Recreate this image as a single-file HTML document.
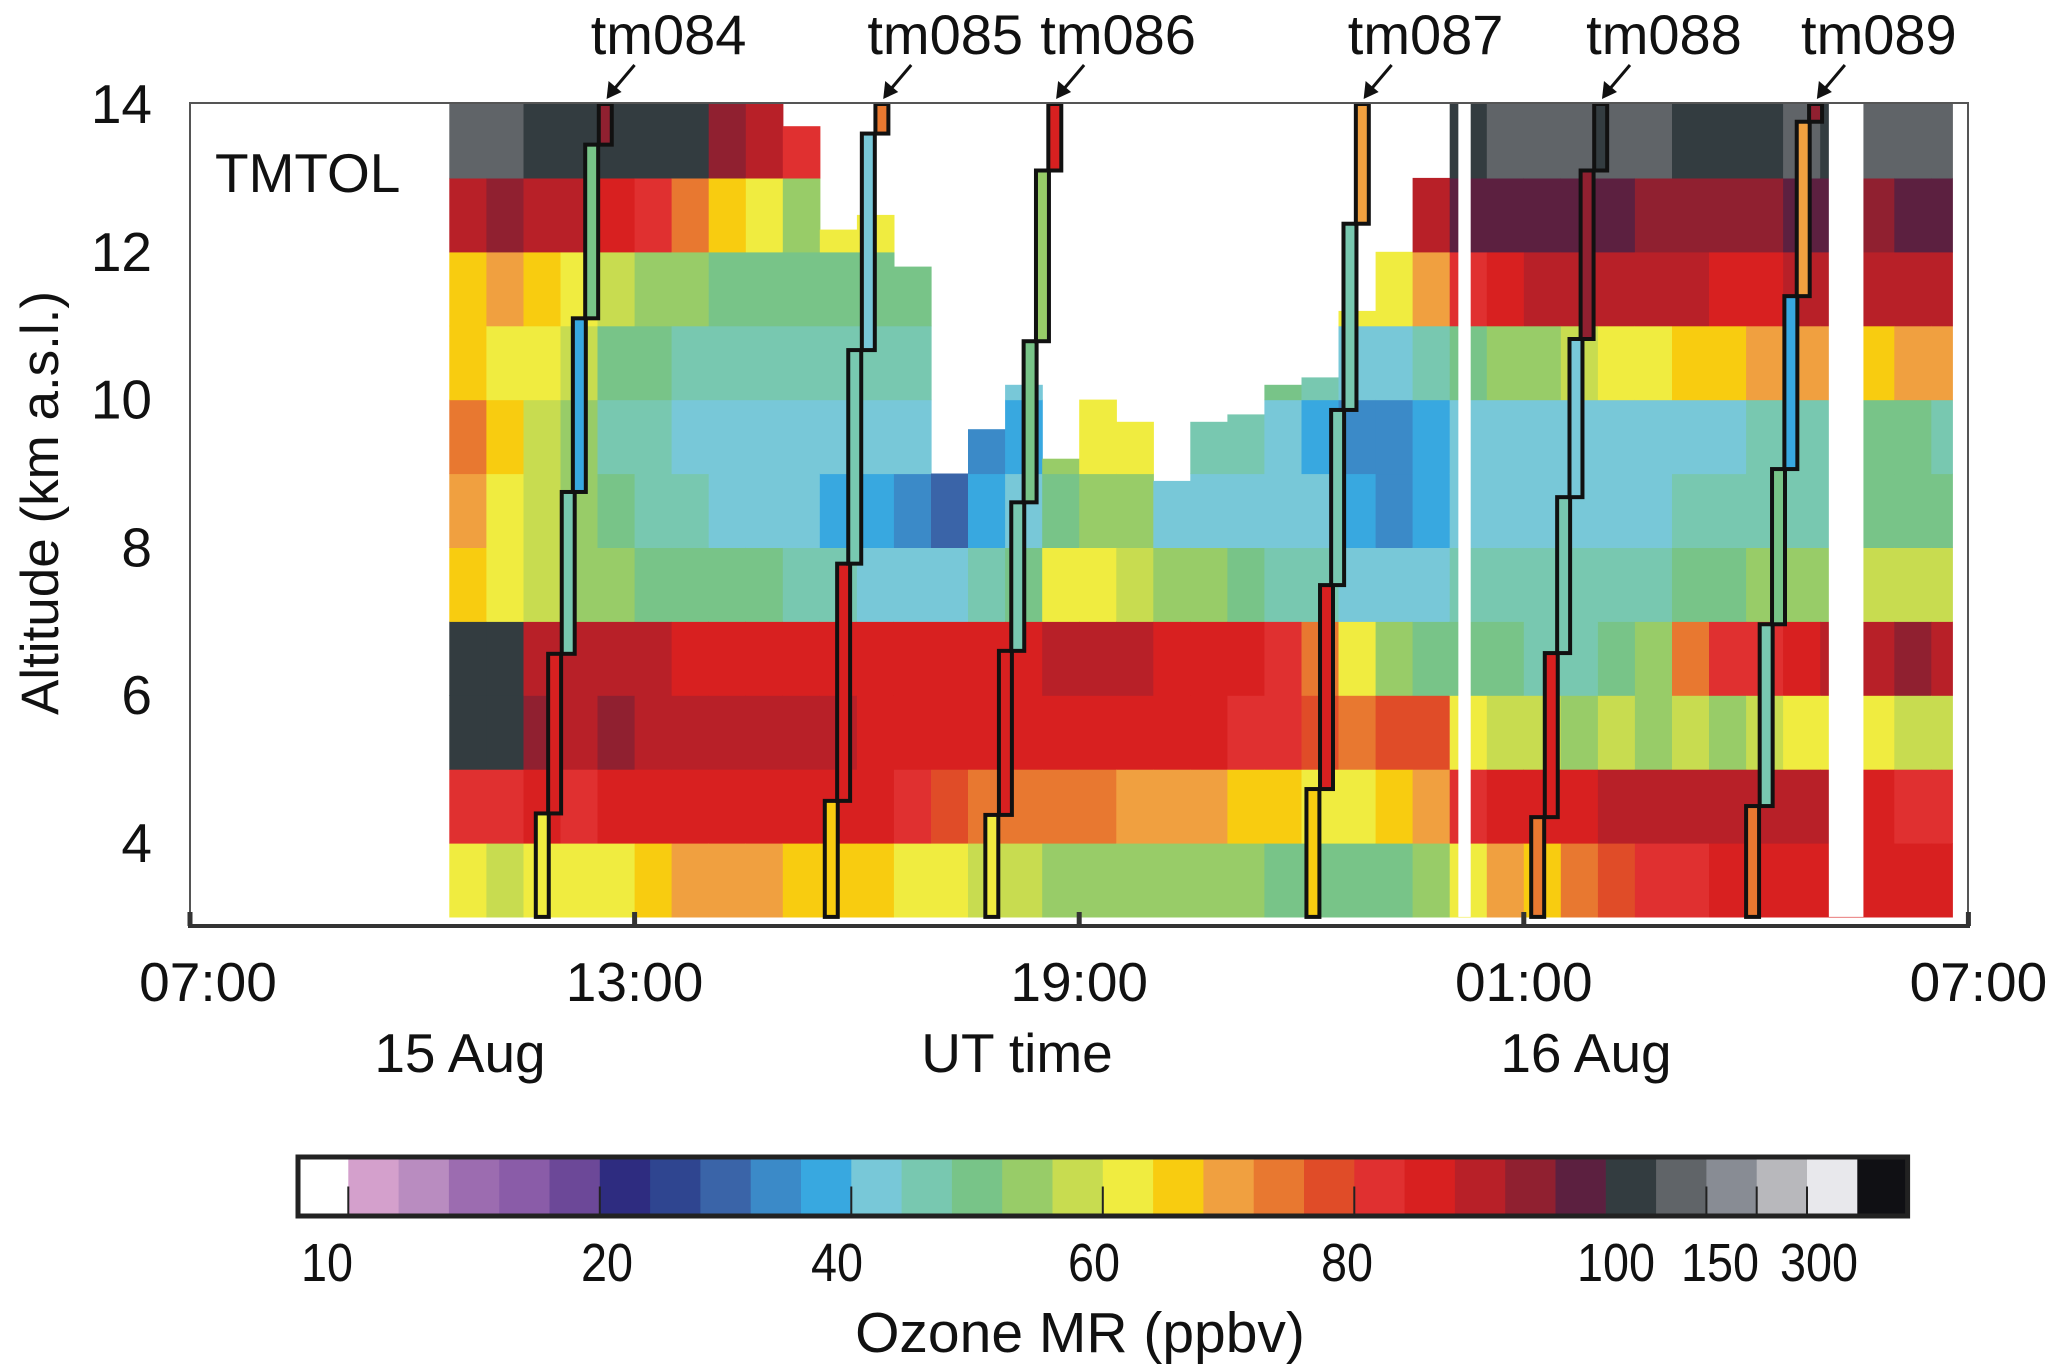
<!DOCTYPE html>
<html><head><meta charset="utf-8">
<style>
html,body{margin:0;padding:0;background:#fff;}
svg{display:block;}
text{font-family:"Liberation Sans",sans-serif;fill:#111;}
</style></head>
<body>
<svg id="chart" width="2067" height="1370" viewBox="0 0 2067 1370" xmlns="http://www.w3.org/2000/svg">
  <g id="heat"></g>
  <g id="gapsG"></g>
  <g id="sondesG"></g>
  <rect x="190" y="103" width="1778" height="823" fill="none" stroke="#555" stroke-width="2"/>
  <line x1="188" y1="926" x2="1970" y2="926" stroke="#333" stroke-width="4"/>
  <g id="axes"></g>
  <text x="215" y="192" font-size="55">TMTOL</text>
  <text transform="translate(58,503) rotate(-90)" text-anchor="middle" font-size="53">Altitude (km a.s.l.)</text>
  <text x="460" y="1072" text-anchor="middle" font-size="55">15 Aug</text>
  <text x="1017" y="1072" text-anchor="middle" font-size="55">UT time</text>
  <text x="1586" y="1072" text-anchor="middle" font-size="55">16 Aug</text>
  <g id="cbar"></g>
  <text x="1080" y="1352" text-anchor="middle" font-size="57">Ozone MR (ppbv)</text>
</svg>
<script>
// ---- data ----
const columnTimes = ["10:30","11:00","11:30","12:00","12:30","13:00","13:30","14:00","14:30","15:00","15:30","16:00","16:30","17:00","17:30","18:00","18:30","19:00","19:30","20:00","20:30","21:00","21:30","22:00","22:30","23:00","23:30","00:00","00:30","01:00","01:30","02:00","02:30","03:00","03:30","04:00","04:30","05:00","05:30","06:00","06:30"];
const levelBottoms = [3,4,5,6,7,8,9,10,11,12,13];
const columnTops = [14,14,14,14,14,14,14,14,14,13.7,12.3,12.5,11.8,9.0,9.6,10.2,9.2,10.0,9.7,8.9,9.7,9.8,10.2,10.3,11.2,12.0,13.0,14,14,14,14,14,14,14,14,14,14,14,14,14,14];
const ozoneValues = [
 [60,80,108,106,65,68,72,66,64,88,130],
 [58,82,100,100,62,62,64,62,68,92,125],
 [62,84,92,90,58,56,58,60,66,90,120],
 [60,82,90,88,55,52,52,56,62,88,115],
 [62,85,92,88,52,48,46,50,58,85,120],
 [65,85,90,88,50,45,44,48,55,80,110],
 [68,86,90,87,50,44,42,46,52,72,100],
 [70,86,88,86,48,42,42,45,50,65,95],
 [68,86,88,86,48,40,42,46,50,62,90],
 [66,86,88,85,46,40,42,45,48,55,80],
 [64,85,88,84,45,38,42,45,48,60,80],
 [65,84,86,84,42,38,42,46,50,62,80],
 [63,80,86,84,40,34,40,45,50,80,80],
 [60,78,86,85,42,30,32,40,40,40,40],
 [58,75,86,86,45,36,34,40,40,40,40],
 [56,74,86,86,50,40,38,42,45,45,45],
 [55,72,86,88,60,50,55,55,55,55,55],
 [55,72,86,90,62,55,62,60,60,60,60],
 [52,70,86,88,58,52,60,60,60,60,60],
 [52,70,84,86,55,42,45,45,45,45,45],
 [52,68,84,86,52,42,45,50,50,50,50],
 [52,66,82,84,50,40,45,50,50,50,50],
 [50,64,80,80,46,40,42,48,50,50,50],
 [50,62,78,72,44,40,38,45,50,50,50],
 [48,60,74,60,42,36,35,40,60,70,70],
 [50,64,76,52,42,34,34,42,60,80,80],
 [52,68,76,48,42,38,36,45,70,90,115],
 [62,82,60,48,44,42,40,48,80,96,120],
 [70,86,58,48,44,42,40,55,86,98,130],
 [66,85,56,46,44,40,40,55,88,97,128],
 [72,86,55,46,44,40,42,58,88,96,130],
 [78,88,58,48,46,42,42,62,88,96,125],
 [80,88,55,52,46,42,40,62,88,95,125],
 [82,88,56,72,48,44,42,64,88,95,120],
 [84,88,55,80,50,44,42,66,86,94,120],
 [84,88,58,82,52,44,44,68,86,94,120],
 [86,88,60,86,52,44,44,68,88,97,125],
 [86,88,62,88,54,46,44,70,88,96,120],
 [86,86,60,88,58,50,48,66,88,95,130],
 [86,82,58,92,58,50,48,70,88,97,130],
 [86,80,56,90,56,48,46,68,88,97,130]
];
const dataEnd = "06:47";
const gapStarts = ["00:07","05:07"];
const gapEnds = ["00:17","05:35"];
const sondeNames = ["tm084","tm085","tm086","tm087","tm088","tm089"];
const sondeStepTimes = [
 ["11:40","11:50","12:01","12:10","12:20","12:31"],
 ["15:34","15:44","15:53","16:04","16:15"],
 ["17:44","17:55","18:05","18:15","18:25","18:35"],
 ["22:04","22:15","22:24","22:34","22:44"],
 ["01:06","01:17","01:27","01:37","01:46","01:57"],
 ["04:00","04:11","04:21","04:31","04:41","04:51"]
];
const sondeAltitudes = [
 [3,4.4,6.56,8.75,11.1,13.45,14],
 [3,4.57,7.78,10.67,13.6,14],
 [3,4.38,6.6,8.61,10.79,13.1,14],
 [3,4.73,7.49,9.86,12.38,14],
 [3,4.35,6.57,8.68,10.82,13.1,14],
 [3,4.5,6.96,9.06,11.4,13.76,14]
];
const sondeValues = [
 [62,85,45,38,50,95],
 [65,85,45,40,75,120],
 [62,85,46,48,52,85],
 [65,85,45,46,68,5],
 [72,85,45,40,92,120],
 [72,45,48,38,68,95]
];
const yTicks = [14,12,10,8,6,4];
const xTickLabels = ["07:00","13:00","19:00","01:00","07:00"];
const cbarTickLabels = ["10","20","40","60","80","100","150","300"];

// ---- styles / scales ----
const binColors = ["#ffffff","#d4a0cc","#b98cc0","#9c6cb0","#8a5ca8","#6c4898","#2e2c80","#2f4590","#3a64a8","#3b8ac8","#38a8e0","#78c8d8","#78c8b0","#78c488","#98cc68","#c8dc50","#f0ec40","#f8cc10","#f0a040","#e87830","#e04c28","#e03030","#d82020","#b82028","#902030","#5c2040","#333c40","#606468","#888c94","#b8b8bc","#e8e8ec","#101014"];
function bin(v){
  if(v<10) return 0;
  if(v<20) return 1+Math.floor((v-10)/2);
  if(v<100) return 6+Math.floor((v-20)/4);
  if(v<125) return 26;
  if(v<150) return 27;
  if(v<200) return 28;
  if(v<300) return 29;
  if(v<400) return 30;
  return 31;
}
function colorOf(v){return binColors[Math.min(31,bin(v))];}
function hrs(t){const p=t.split(":");let h=+p[0]+(+p[1])/60-7;if(h<0)h+=24;return h;}
const X0=190, PXH=74.1, Y14=104, PXK=73.9;
function xOf(h){return X0+h*PXH;}
function yOf(km){return Y14+(14-km)*PXK;}
const NS="http://www.w3.org/2000/svg";
function mk(tag,attrs,parent){const e=document.createElementNS(NS,tag);for(const k in attrs)e.setAttribute(k,attrs[k]);parent.appendChild(e);return e;}

// heatmap
const heat=document.getElementById("heat");
const endH=hrs(dataEnd);
columnTimes.forEach((t,i)=>{
  const h0=hrs(t), h1=Math.min(h0+0.5,endH);
  levelBottoms.forEach((lb,k)=>{
    const top=Math.min(lb+1,columnTops[i]);
    if(top<=lb) return;
    const r=mk("rect",{x:xOf(h0).toFixed(1),y:yOf(top).toFixed(1),width:(xOf(h1)-xOf(h0)+0.6).toFixed(1),height:(yOf(lb)-yOf(top)+0.6).toFixed(1),fill:colorOf(ozoneValues[i][k])},heat);
    
    
  });
});
// gaps
const gapsG=document.getElementById("gapsG");
gapStarts.forEach((g,i)=>{
  const a=hrs(g), b=hrs(gapEnds[i]);
  const r=mk("rect",{x:xOf(a),y:yOf(14),width:xOf(b)-xOf(a),height:yOf(3)-yOf(14),fill:"#fff"},gapsG);
  
  
});
// sondes
const sg=document.getElementById("sondesG");
const stepW=10.5/60;
sondeNames.forEach((name,s)=>{
  const g=mk("g",{},sg);
  
  
  const st=sondeStepTimes[s], al=sondeAltitudes[s];
  st.forEach((t,j)=>{
    const h=hrs(t);
    const r=mk("rect",{x:xOf(h),y:yOf(al[j+1]),width:stepW*PXH,height:yOf(al[j])-yOf(al[j+1]),fill:colorOf(sondeValues[s][j]),stroke:"#111","stroke-width":4},g);
    
    
  });
  const last=hrs(st[st.length-1]);
  const tx=xOf(last)+stepW*PXH*0.6, ty=99;
  const sx=tx+28, sy=ty-34;
  const ln=mk("line",{x1:sx,y1:sy,x2:tx+6,y2:ty-8,stroke:"#111","stroke-width":3},g);
  
  
  const ah=mk("polygon",{points:`${tx},${ty} ${tx+2},${ty-18} ${tx+15},${ty-7}`,fill:"#111"},g);
  
  
  const lb=mk("text",{x:tx+62,y:54,"text-anchor":"middle","font-size":56},g);
  lb.textContent=name;
  
  
});
// axes
const ax=document.getElementById("axes");
yTicks.forEach(v=>{
  const t=mk("text",{x:152,y:yOf(v)+19,"text-anchor":"end","font-size":55},ax);
  t.textContent=v;
  
  
});
xTickLabels.forEach((l,i)=>{
  const x=xOf(i*6);
  const tk=mk("line",{x1:x,y1:926,x2:x,y2:912,stroke:"#333","stroke-width":5},ax);
  
  
  const cx = i===0 ? x+18 : (i===4 ? x+10 : x);
  const t=mk("text",{x:cx,y:1001,"text-anchor":"middle","font-size":55},ax);
  t.textContent=l;
  
  
});
// colorbar
const cb=document.getElementById("cbar");
const CBL=298, CBT=1157, BW=50.3, CBH=59;
binColors.forEach((c,i)=>{
  const r=mk("rect",{x:CBL+i*BW,y:CBT,width:BW+0.5,height:CBH,fill:c},cb);
  
  
});
const fr=mk("rect",{x:CBL,y:CBT,width:BW*32,height:CBH,fill:"none",stroke:"#222","stroke-width":5},cb);


const tickBins=[1,6,11,16,21,28,29,30];
const labelX=[327,607,837,1094,1347,1616,1720,1819];
cbarTickLabels.forEach((l,i)=>{
  const x=CBL+tickBins[i]*BW;
  const tk=mk("line",{x1:x,y1:CBT+CBH*0.5,x2:x,y2:CBT+CBH,stroke:"#222","stroke-width":2},cb);
  
  
  const w=26*l.length;
  const t=mk("text",{x:labelX[i]-w/2,y:1281,"font-size":54,textLength:w,lengthAdjust:"spacingAndGlyphs"},cb);
  t.textContent=l;
  
  
});
</script>
</body></html>
